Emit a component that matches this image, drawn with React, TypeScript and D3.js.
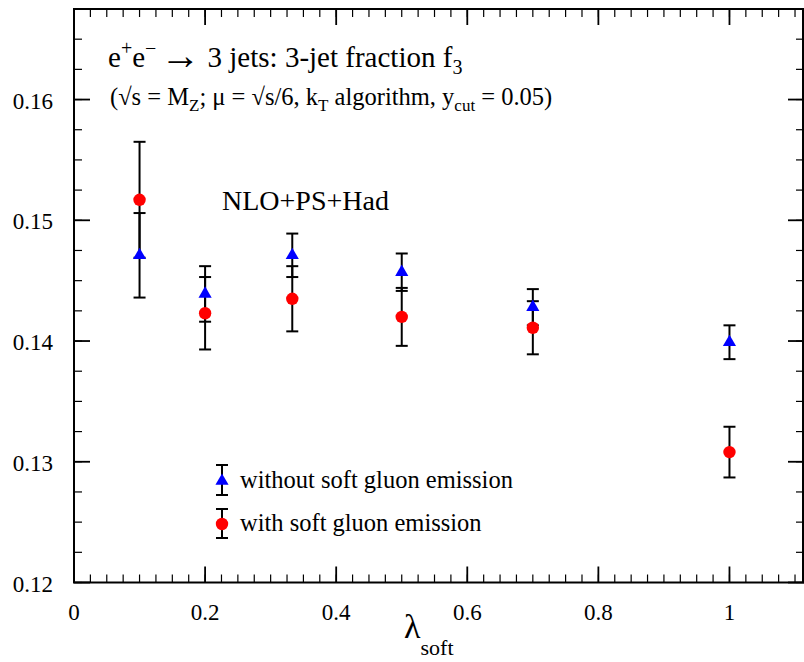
import React from "react";
import * as d3 from "d3";

// lambda_soft values
const lambdas = [0.1, 0.2, 0.333, 0.5, 0.7, 1.0];
// without soft gluon emission (blue triangles)
const noSoft = [0.1471, 0.1439, 0.1471, 0.1457, 0.1428, 0.1399];
const noSoftErr = [0.0035, 0.0023, 0.0018, 0.00155, 0.0015, 0.0014];
// with soft gluon emission (red circles)
const withSoft = [0.1517, 0.1423, 0.1435, 0.1420, 0.1411, 0.1308];
const withSoftErr = [0.0048, 0.0030, 0.0027, 0.0024, 0.0022, 0.0021];

const xTicks = [0, 0.2, 0.4, 0.6, 0.8, 1];
const yTicks = [0.12, 0.13, 0.14, 0.15, 0.16];

const W = 804;
const H = 662;
const font = "'Liberation Serif', 'Times New Roman', serif";

const App = () => {
  const x = d3.scaleLinear().domain([0, 1.1137]).range([74, 804]);
  const y = d3.scaleLinear().domain([0.12, 0.1675]).range([582.5, 9]);
  const [x0, x1] = x.range();
  const [y0, y1] = y.range();

  const xMinor = d3.range(0, 1.1137, 0.025);
  const yMinor = d3.range(0.12, 0.1675, 0.0025);

  const tri = d3.symbol(d3.symbolTriangle, 75)() as string;
  const cap = 6;

  const errBar = (cx: number, v: number, e: number, key: string) => (
    <g key={key} stroke="#000" strokeWidth={2}>
      <line x1={cx} x2={cx} y1={y(v - e)} y2={y(v + e)} />
      <line x1={cx - cap} x2={cx + cap} y1={y(v - e)} y2={y(v - e)} />
      <line x1={cx - cap} x2={cx + cap} y1={y(v + e)} y2={y(v + e)} />
    </g>
  );

  return (
    <svg width={W} height={H} style={{ position: "absolute", left: 0, top: 0 }} fontFamily={font}>
      <rect width={W} height={H} fill="#fff" />

      {/* minor ticks */}
      <g stroke="#000" strokeWidth={1.2}>
        {xMinor.map((t, i) => (
          <g key={"xm" + i}>
            <line x1={x(t)} x2={x(t)} y1={y0} y2={y0 - 8} />
            <line x1={x(t)} x2={x(t)} y1={y1} y2={y1 + 8} />
          </g>
        ))}
        {yMinor.map((t, i) => (
          <g key={"ym" + i}>
            <line x1={x0} x2={x0 + 8} y1={y(t)} y2={y(t)} />
            <line x1={x1} x2={x1 - 8} y1={y(t)} y2={y(t)} />
          </g>
        ))}
      </g>
      {/* major ticks */}
      <g stroke="#000" strokeWidth={1.8}>
        {xTicks.map((t) => (
          <g key={"xM" + t}>
            <line x1={x(t)} x2={x(t)} y1={y0} y2={y0 - 16} />
            <line x1={x(t)} x2={x(t)} y1={y1} y2={y1 + 16} />
          </g>
        ))}
        {yTicks.map((t) => (
          <g key={"yM" + t}>
            <line x1={x0} x2={x0 + 16} y1={y(t)} y2={y(t)} />
            <line x1={x1} x2={x1 - 16} y1={y(t)} y2={y(t)} />
          </g>
        ))}
      </g>
      {/* frame */}
      <rect x={x0} y={y1} width={x1 - x0 - 1} height={y0 - y1} fill="none" stroke="#000" strokeWidth={2} />

      {/* tick labels */}
      <g fontSize={23} fill="#000">
        {xTicks.map((t) => (
          <text key={"xl" + t} x={x(t)} y={620} textAnchor="middle">
            {d3.format("~g")(t)}
          </text>
        ))}
        {yTicks.map((t) => (
          <text key={"yl" + t} x={53} y={y(t) + 9} textAnchor="end">
            {d3.format(".2f")(t)}
          </text>
        ))}
      </g>

      {/* axis title */}
      <text x={404} y={638} fontSize={34}>
        λ<tspan fontSize={22} dy={17}>soft</tspan>
      </text>

      {/* error bars */}
      {lambdas.map((l, i) => errBar(x(l), noSoft[i], noSoftErr[i], "eb" + i))}
      {lambdas.map((l, i) => errBar(x(l), withSoft[i], withSoftErr[i], "er" + i))}

      {/* markers */}
      {lambdas.map((l, i) => (
        <path key={"t" + i} d={tri} transform={`translate(${x(l)},${y(noSoft[i])})`} fill="#0000ff" />
      ))}
      {lambdas.map((l, i) => (
        <circle key={"c" + i} cx={x(l)} cy={y(withSoft[i])} r={6.2} fill="#ff0000" />
      ))}

      {/* title */}
      <text x={108} y={67} fontSize={29}>
        e<tspan fontSize={20} dy={-12}>+</tspan>
        <tspan dy={12}>e</tspan>
        <tspan fontSize={20} dy={-12}>−</tspan>
        <tspan fontSize={40} dx={4} dy={14}>→</tspan>
        <tspan dy={-2}> 3 jets: 3-jet fraction f</tspan>
        <tspan fontSize={20} dy={7}>3</tspan>
      </text>
      <text x={110} y={105} fontSize={24.5}>
        (√s = M<tspan fontSize={17} dy={6}>Z</tspan>
        <tspan dy={-6}>; μ = √s/6, k</tspan>
        <tspan fontSize={17} dy={6}>T</tspan>
        <tspan dy={-6}> algorithm, y</tspan>
        <tspan fontSize={17} dy={6}>cut</tspan>
        <tspan dy={-6}> = 0.05)</tspan>
      </text>
      <text x={222} y={210} fontSize={28}>NLO+PS+Had</text>

      {/* legend */}
      <g>
        <g stroke="#000" strokeWidth={2}>
          <line x1={222} x2={222} y1={465} y2={495} />
          <line x1={216} x2={228} y1={465} y2={465} />
          <line x1={216} x2={228} y1={495} y2={495} />
          <line x1={222} x2={222} y1={509} y2={538} />
          <line x1={216} x2={228} y1={509} y2={509} />
          <line x1={216} x2={228} y1={538} y2={538} />
        </g>
        <path d={tri} transform="translate(222,481)" fill="#0000ff" />
        <circle cx={222} cy={524} r={6.2} fill="#ff0000" />
        <text x={240} y={488} fontSize={24.5}>without soft gluon emission</text>
        <text x={240} y={531} fontSize={24.5}>with soft gluon emission</text>
      </g>
    </svg>
  );
};

export default App;
